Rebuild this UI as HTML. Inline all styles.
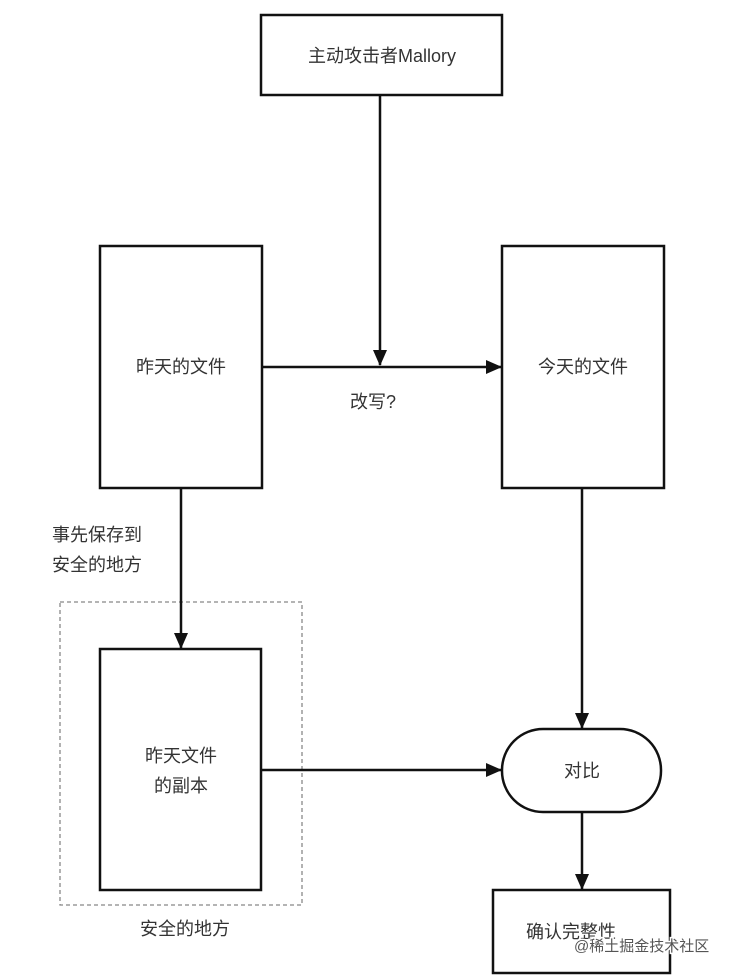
<!DOCTYPE html>
<html><head><meta charset="utf-8"><style>
html,body{margin:0;padding:0;background:#fff;}
svg{display:block;}
text{font-family:"Liberation Sans","Noto Sans CJK SC",sans-serif;font-size:18px;fill:#333;}
</style></head><body>
<svg width="736" height="978" viewBox="0 0 736 978" xmlns="http://www.w3.org/2000/svg">
<defs>
<marker id="a" markerWidth="16" markerHeight="16" refX="15" refY="8" orient="auto" markerUnits="userSpaceOnUse">
<path d="M0,1 L16,8 L0,15 z" fill="#111"/></marker>
</defs>
<g fill="#fff" stroke="#111" stroke-width="2.5">
<rect x="261" y="15" width="241" height="80"/>
<rect x="100" y="246" width="162" height="242"/>
<rect x="502" y="246" width="162" height="242"/>
<rect x="100" y="649" width="161" height="241"/>
<rect x="502" y="729" width="159" height="83" rx="41" ry="41"/>
<rect x="493" y="890" width="177" height="83"/>
</g>
<rect x="60" y="602" width="242" height="303" fill="none" stroke="#888" stroke-width="1.3" stroke-dasharray="4,3"/>
<g stroke="#111" stroke-width="2.5" fill="none">
<line x1="380" y1="95" x2="380" y2="365" marker-end="url(#a)"/>
<line x1="262" y1="367" x2="501" y2="367" marker-end="url(#a)"/>
<line x1="181" y1="488" x2="181" y2="648" marker-end="url(#a)"/>
<line x1="582" y1="488" x2="582" y2="728" marker-end="url(#a)"/>
<line x1="261" y1="770" x2="501" y2="770" marker-end="url(#a)"/>
<line x1="582" y1="812" x2="582" y2="889" marker-end="url(#a)"/>
</g>
<text x="382" y="62" text-anchor="middle">主动攻击者Mallory</text>
<text x="181" y="373" text-anchor="middle">昨天的文件</text>
<text x="583" y="373" text-anchor="middle">今天的文件</text>
<text x="373" y="408" text-anchor="middle">改写?</text>
<text x="52" y="541">事先保存到</text>
<text x="52" y="571">安全的地方</text>
<text x="181" y="762" text-anchor="middle">昨天文件</text>
<text x="181" y="792" text-anchor="middle">的副本</text>
<text x="185" y="935" text-anchor="middle">安全的地方</text>
<text x="582" y="777" text-anchor="middle">对比</text>
<text x="526" y="938">确认完整性</text>
<text x="574" y="951" style="font-size:15px;fill:#fff;stroke:#fff;stroke-width:3">@稀土掘金技术社区</text>
<text x="574" y="951" style="font-size:15px;fill:#555">@稀土掘金技术社区</text>
</svg>
</body></html>
